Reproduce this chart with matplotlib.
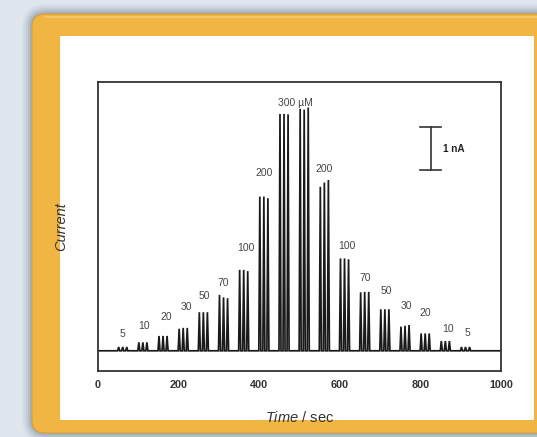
import matplotlib
matplotlib.use("Agg")
import matplotlib.pyplot as plt
from matplotlib.patches import FancyBboxPatch, Rectangle

plt.rcParams['font.family'] = ['Liberation Sans', 'DejaVu Sans']
plt.rcParams['mathtext.fontset'] = 'custom'
plt.rcParams['mathtext.rm'] = 'Liberation Sans'
plt.rcParams['mathtext.it'] = 'Liberation Sans:italic'

# ---------------- data ----------------
group_times = [62, 112, 162, 212, 262, 312, 362, 412, 462,
               512, 562, 612, 662, 712, 762, 812, 862, 912]          # sec
group_labels = ['5', '10', '20', '30', '50', '70', '100', '200', '300 µM',
                '', '200', '100', '70', '50', '30', '20', '10', '5']
spike_offsets = [-10, 0, 10]                                          # sec within a group
spike_heights = [                                                     # nA
    [0.09, 0.09, 0.09],
    [0.20, 0.20, 0.20],
    [0.35, 0.35, 0.35],
    [0.52, 0.54, 0.54],
    [0.91, 0.91, 0.91],
    [1.32, 1.26, 1.24],
    [1.91, 1.91, 1.88],
    [3.64, 3.64, 3.60],
    [5.59, 5.59, 5.58],
    [5.71, 5.69, 5.74],
    [3.87, 3.97, 4.03],
    [2.18, 2.18, 2.16],
    [1.38, 1.39, 1.39],
    [0.98, 0.98, 0.98],
    [0.57, 0.59, 0.61],
    [0.41, 0.41, 0.41],
    [0.23, 0.23, 0.23],
    [0.09, 0.09, 0.09],
]
x_ticks = [0, 200, 400, 600, 800, 1000]
scale_bar_nA = 1.0

# ---------------- layout (pixels) ----------------
label_offsets_px = [(0, 13), (1, 16), (3, 19), (3, 21), (1, 16), (0, 12), (2, 22), (0, 24),
                    (11, 11), (0, 0), (0, 11), (2, 12), (1, 14), (1, 18), (1, 19), (0, 20),
                    (3, 12), (2, 14)]

W, H = 537, 437
fig = plt.figure(figsize=(W / 100, H / 100), dpi=100)
fig.patch.set_facecolor('#dde4eb')

# decorative frame
bg = fig.add_axes([0, 0, 1, 1], zorder=0)
bg.set_xlim(0, W)
bg.set_ylim(H, 0)
bg.axis('off')
bg.add_patch(Rectangle((0, 0), W, H, facecolor='#e0e6ed', edgecolor='none'))
for i, a in enumerate([0.05, 0.07, 0.09, 0.12, 0.16]):
    g = 10 - 2 * i
    bg.add_patch(FancyBboxPatch((32 - g, 14 - g), 560, 419 + 2 * g,
                                boxstyle="round,pad=0,rounding_size=%d" % (14 + g),
                                facecolor='#4d6280', edgecolor='none', alpha=a))
bg.add_patch(FancyBboxPatch((32, 14), 560, 419, boxstyle="round,pad=0,rounding_size=13",
                            facecolor='#f1b544', edgecolor='#d99f35', linewidth=0.8))
bg.plot([45, 600], [17, 17], color='#f7cf7c', lw=1.2, alpha=0.8)
bg.add_patch(Rectangle((60, 36), 474, 384, facecolor='white', edgecolor='none'))

# ---------------- chart ----------------
ax = fig.add_axes([97.7 / W, (H - 370.7) / H, 403.3 / W, 289.0 / H], zorder=1)
ax.set_facecolor('white')

xs, ys = [0.0], [0.0]
for t, hs in zip(group_times, spike_heights):
    for off, h in zip(spike_offsets, hs):
        c = t + off
        xs += [c - 2.5, c, c + 2.5]
        ys += [0.0, h, 0.0]
xs.append(1000.0)
ys.append(0.0)
ax.plot(xs, ys, color='#1a1a1a', lw=1.25, solid_joinstyle='miter')

for t, hs, lab, (dx, dy) in zip(group_times, spike_heights, group_labels, label_offsets_px):
    if lab:
        ax.annotate(lab, (t, max(hs)), xytext=(dx, dy), textcoords='offset pixels',
                    ha='center', va='center', fontsize=7.5, color='#454545')

# scale bar
sb_x, sb_y0 = 826, 4.27
ax.plot([sb_x, sb_x], [sb_y0, sb_y0 + scale_bar_nA], color='#333333', lw=1.2)
ax.plot([sb_x - 26, sb_x + 26], [sb_y0, sb_y0], color='#333333', lw=1.2)
ax.plot([sb_x - 26, sb_x + 26], [sb_y0 + scale_bar_nA] * 2, color='#333333', lw=1.2)
ax.text(sb_x + 31, sb_y0 + scale_bar_nA / 2, '1 nA', fontsize=7.2, fontweight='bold',
        ha='left', va='center', color='#222222')

ax.set_xlim(0, 1000)
ax.set_ylim(-0.47, 6.35)
ax.set_xticks(x_ticks)
ax.set_xticklabels([str(v) for v in x_ticks], fontweight='bold', fontsize=7.8, color='#333333')
ax.set_yticks([])
ax.tick_params(axis='x', length=0, pad=7)
for s in ax.spines.values():
    s.set_color('#333333')
    s.set_linewidth(1.3)

ax.set_ylabel('Current', fontstyle='italic', fontsize=10.5, color='#333333')
ax.yaxis.set_label_coords(-0.074, 0.5)
ax.set_xlabel(r'$\mathit{Time}$ / sec', fontsize=10.5, color='#333333')
ax.xaxis.set_label_coords(0.5, -0.136)

fig.savefig('out.png', dpi=100, facecolor=fig.get_facecolor())
